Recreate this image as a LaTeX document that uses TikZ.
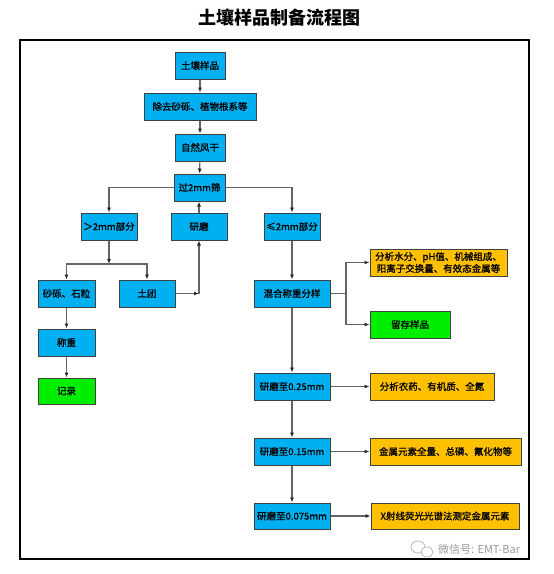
\documentclass[tikz,border=0pt]{standalone}
\usepackage{fontspec}
\newfontfamily\cjk{Noto Sans CJK SC}
\newfontfamily\cjkb{Noto Sans CJK SC}[FakeBold=0.9]
\usetikzlibrary{arrows.meta}
\definecolor{boxblue}{RGB}{0,176,240}
\definecolor{boxorange}{RGB}{255,192,0}
\definecolor{boxgreen}{RGB}{0,238,0}
\definecolor{edgegray}{RGB}{64,64,64}
\definecolor{linegray}{RGB}{100,100,100}
\tikzset{
  box/.style={draw=edgegray, line width=1pt, inner sep=0pt, align=center,
    font=\cjkb\fontsize{9.5}{12}\selectfont},
  bluebox/.style={box, fill=boxblue},
  orangebox/.style={box, fill=boxorange},
  greenbox/.style={box, fill=boxgreen},
  conn/.style={draw=linegray, line width=1.1pt},
  arr/.style={conn, -{Latex[length=5pt,width=4pt,color=black!85]}},
}
\newcommand{\bx}[7]{% style, name, x1, y1, x2, y2, text
  \node[#1, minimum width={(#5-#3)*1pt}, minimum height={(#6-#4)*1pt}]
    (#2) at ({(#3+#5)/2}, {(#4+#6)/2}) {#7};}
\begin{document}
\begin{tikzpicture}[x=1pt, y=-1pt]
\useasboundingbox (0,0) rectangle (554,574);
\fill[white] (0,0) rectangle (554,574);
% title
\node[font=\cjk\bfseries\fontsize{18}{20}\selectfont] (title) at (279,17) {土壤样品制备流程图};
% frame
\draw[line width=1.4pt, black] (20,40) rectangle (529,559);
% nodes
\bx{bluebox}{n1}{175}{52}{225}{79}{土壤样品}
\bx{bluebox}{n2}{144}{93}{256}{120}{除去砂砾、植物根系等}
\bx{bluebox}{n3}{175}{134}{225}{161}{自然风干}
\bx{bluebox}{n4}{174}{174}{225}{201}{过2mm筛}
\bx{bluebox}{a}{81}{213}{137}{240}{＞2mm部分}
\bx{bluebox}{g}{171}{213}{227}{240}{研磨}
\bx{bluebox}{b}{264}{213}{320}{240}{≤2mm部分}
\bx{bluebox}{s}{38}{280}{95}{307}{砂砾、石粒}
\bx{bluebox}{t}{119}{280}{175}{307}{土团}
\bx{bluebox}{w}{38}{329}{95}{356}{称重}
\bx{greenbox}{r}{38}{378}{95}{404}{记录}
\bx{bluebox}{m}{254}{280}{330}{307}{混合称重分样}
\bx{orangebox}{o1}{370}{249}{507}{276}{分析水分、pH值、机械组成、\\阳离子交换量、有效态金属等}
\bx{greenbox}{o2}{370}{311}{450}{338}{留存样品}
\bx{bluebox}{g1}{254}{373}{330}{400}{研磨至0.25mm}
\bx{orangebox}{o3}{370}{373}{494}{400}{分析农药、有机质、全氮}
\bx{bluebox}{g2}{254}{438}{330}{465}{研磨至0.15mm}
\bx{orangebox}{o4}{370}{438}{521}{465}{金属元素全量、总磷、氟化物等}
\bx{bluebox}{g3}{254}{503}{330}{529}{研磨至0.075mm}
\bx{orangebox}{o5}{371}{503}{519}{529}{X射线荧光光谱法测定金属元素}
% helper coordinates
\coordinate (ja) at (109,264);
\coordinate (jt) at (199,293.5);
\coordinate (jm) at (346,293.5);
% connectors
\draw[arr] (n1) -- (n2);
\draw[arr] (n2) -- (n3);
\draw[arr] (n3) -- (n4);
\draw[arr] (n4.west) -| (a.north);
\draw[arr] (n4.east) -| (b.north);
\draw[arr] (a.south) -- (ja);
\draw[arr] (ja) -| (s.north);
\draw[arr] (ja) -| (t.north);
\draw[arr] (t.east) -- (jt);
\draw[arr] (jt) -- (jt |- g.south);
\draw[arr] (g.north -| jt) -- (jt |- n4.south);
\draw[arr] (s) -- (w);
\draw[arr] (w) -- (r);
\draw[arr] (b) -- (m);
\draw[conn] (m.east) -- (jm);
\draw[arr] (jm) |- (o1.west);
\draw[arr] (jm) |- (o2.west);
\draw[arr] (m) -- (g1);
\draw[arr] (g1) -- (g2);
\draw[arr] (g2) -- (g3);
\draw[arr] (g1) -- (o3);
\draw[arr] (g2) -- (o4);
\draw[arr] (g3) -- (o5);
% watermark
\draw[gray!55, line width=0.8pt] (418,547) ellipse (7pt and 6pt);
\draw[gray!55, line width=0.8pt, fill=white] (427,552) ellipse (6pt and 5pt);
\node[anchor=west, text=gray!80, font=\cjk\fontsize{11}{13}\selectfont, inner sep=0pt] (wm) at (438,549) {微信号: EMT-Bar};
\end{tikzpicture}
\end{document}
